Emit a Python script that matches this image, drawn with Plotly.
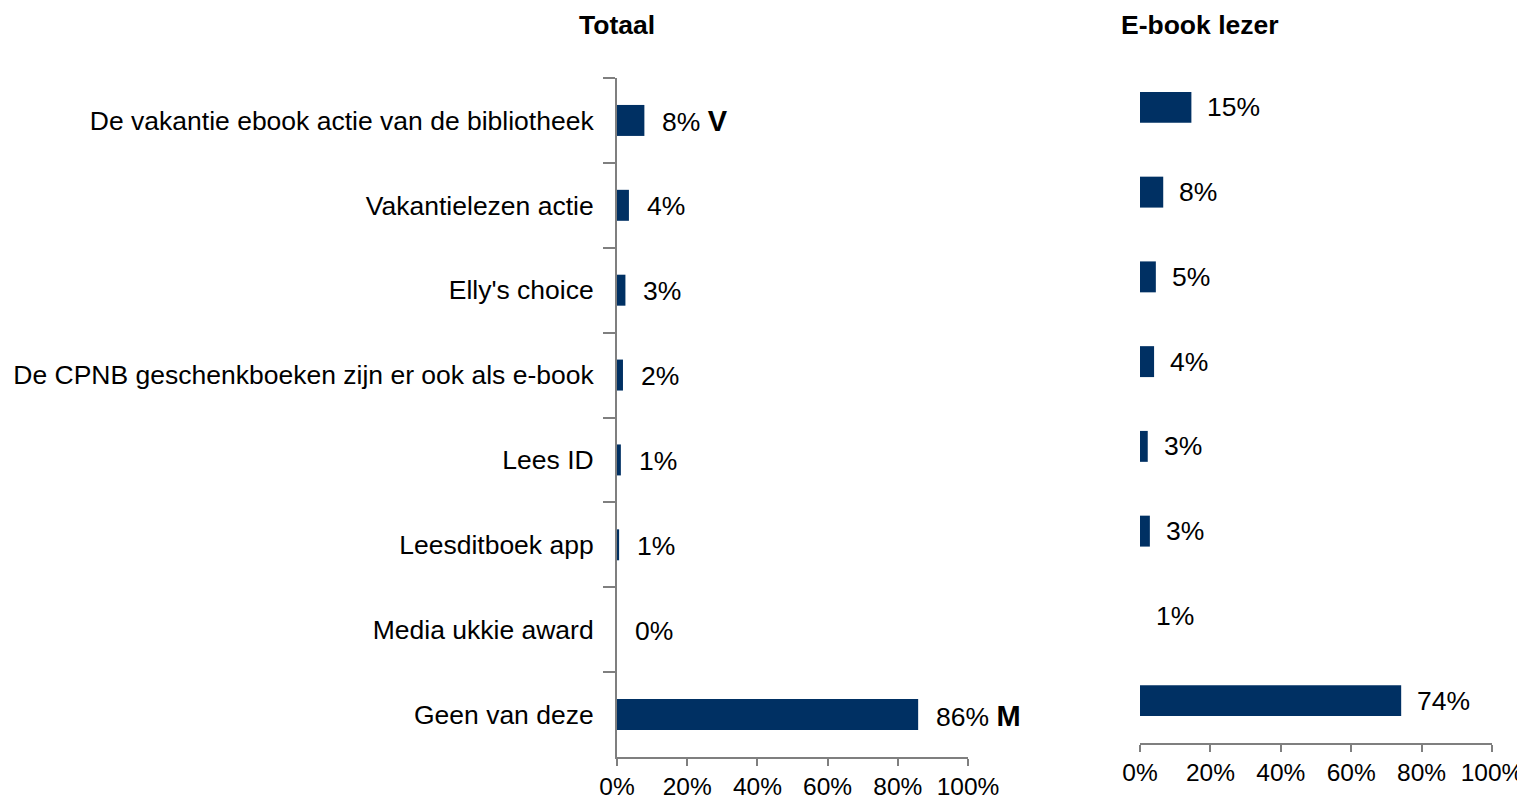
import plotly.graph_objects as go
from plotly.subplots import make_subplots

categories = [
    "De vakantie ebook actie van de bibliotheek",
    "Vakantielezen actie",
    "Elly's choice",
    "De CPNB geschenkboeken zijn er ook als e-book",
    "Lees ID",
    "Leesditboek app",
    "Media ukkie award",
    "Geen van deze",
]

# Totaal (bar lengths, labels as printed)
totaal_values = [7.8, 3.4, 2.4, 1.7, 1.1, 0.6, 0.0, 85.8]
totaal_labels = ["8%", "4%", "3%", "2%", "1%", "1%", "0%", "86%"]
totaal_marks = ["V", "", "", "", "", "", "", "M"]

# E-book lezer
ebook_values = [14.6, 6.6, 4.5, 4.0, 2.2, 2.8, 0.0, 74.2]
ebook_labels = ["15%", "8%", "5%", "4%", "3%", "3%", "1%", "74%"]

tick_vals = [0, 20, 40, 60, 80, 100]
tick_text = ["0%", "20%", "40%", "60%", "80%", "100%"]

BAR = "#003063"
AXIS = "#7f7f7f"
FONT = "Liberation Sans, Arial, sans-serif"
FS = 26.5

# the page puts the plot 8px in from the top-left corner
OFF = 8
W, H = 1525 - OFF, 800 - OFF


def px(x):
    return (x - OFF) / W


def py(y):
    return 1 - (y - OFF) / H


fig = make_subplots(rows=1, cols=2)

fig.add_trace(go.Bar(
    x=totaal_values, y=categories, orientation="h",
    marker=dict(color=BAR, line=dict(width=0)),
    hoverinfo="skip", showlegend=False,
), row=1, col=1)

fig.add_trace(go.Bar(
    x=ebook_values, y=categories, orientation="h",
    marker=dict(color=BAR, line=dict(width=0)),
    hoverinfo="skip", showlegend=False,
), row=1, col=2)

# value labels
for v, lab, m, c in zip(totaal_values, totaal_labels, totaal_marks, categories):
    txt = lab
    if m:
        txt += " <b><span style='font-size:29px'>" + m + "</span></b>"
    fig.add_annotation(x=v, y=c, xref="x", yref="y", text=txt, showarrow=False,
                       xanchor="left", yanchor="middle", xshift=16, yshift=-1,
                       font=dict(size=FS, color="black", family=FONT))

for v, lab, c in zip(ebook_values, ebook_labels, categories):
    fig.add_annotation(x=v, y=c, xref="x2", yref="y2", text=lab, showarrow=False,
                       xanchor="left", yanchor="middle", xshift=14,
                       font=dict(size=FS, color="black", family=FONT))

# titles
fig.add_annotation(x=px(617), y=py(25), xref="paper", yref="paper",
                   xanchor="center", yanchor="middle",
                   text="<b>Totaal</b>", showarrow=False,
                   font=dict(size=FS, color="black", family=FONT))
fig.add_annotation(x=px(1200), y=py(25), xref="paper", yref="paper",
                   xanchor="center", yanchor="middle",
                   text="<b>E-book lezer</b>", showarrow=False,
                   font=dict(size=FS, color="black", family=FONT))

xaxis_common = dict(
    range=[0, 100], tickvals=tick_vals, ticktext=tick_text,
    showgrid=False, zeroline=False, showline=True, linecolor=AXIS, linewidth=2,
    ticks="outside", ticklen=7, tickwidth=2, tickcolor=AXIS,
    ticklabeloverflow="allow",
    tickfont=dict(size=24.5, color="black", family=FONT), automargin=False,
)

fig.update_xaxes(domain=[px(617), px(968)], **xaxis_common, row=1, col=1)
fig.update_xaxes(domain=[px(1140), px(1492)], **xaxis_common, row=1, col=2)

fig.update_yaxes(
    domain=[py(757), py(78)], autorange="reversed",
    showgrid=False, zeroline=False, showline=True, linecolor=AXIS, linewidth=2,
    ticks="outside", tickson="boundaries", ticklen=12, tickwidth=2, tickcolor=AXIS,
    ticklabelstandoff=16,
    tickfont=dict(size=FS, color="black", family=FONT), automargin=False,
    row=1, col=1,
)
fig.update_yaxes(
    domain=[py(743), py(65)], autorange="reversed",
    showgrid=False, zeroline=False, showline=False, showticklabels=False,
    automargin=False, row=1, col=2,
)

fig.update_layout(
    width=W, height=H,
    margin=dict(l=0, r=0, t=0, b=0),
    paper_bgcolor="white", plot_bgcolor="white",
    bargap=0.635,
    font=dict(family=FONT, color="black"),
)

fig.write_html("out.html")
